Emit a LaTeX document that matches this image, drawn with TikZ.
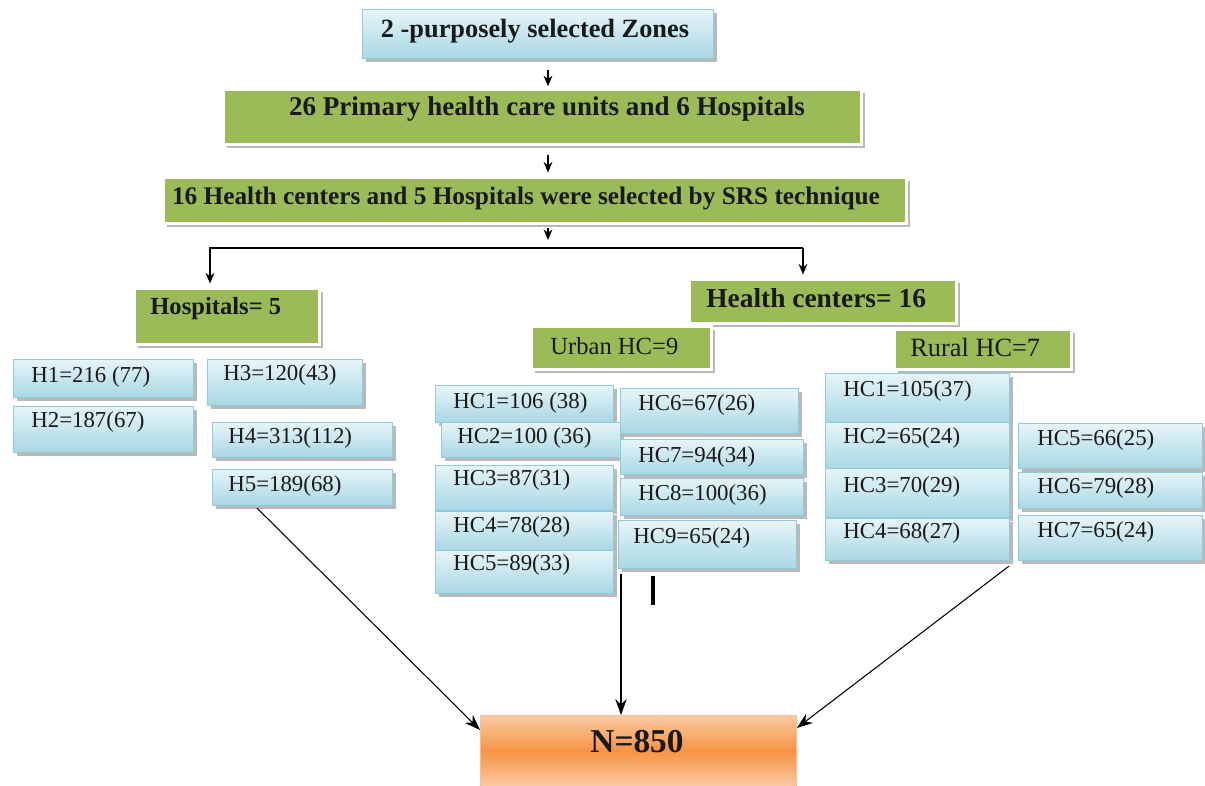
\documentclass[tikz,border=0pt]{standalone}
\usepackage{fontspec}
\setmainfont{Liberation Serif}
\usetikzlibrary{shadows,arrows.meta,calc}
\definecolor{gbox}{HTML}{9BBB59}
\definecolor{btop}{HTML}{E6F5F9}
\definecolor{bbot}{HTML}{A8D7E4}
\definecolor{bdraw}{HTML}{8FCBDB}
\definecolor{otop}{HTML}{FBCAA2}
\definecolor{omid}{HTML}{F69443}
\tikzset{
 shad/.style={drop shadow={shadow xshift=2pt, shadow yshift=-2.2pt, fill=black!50, opacity=0.55}},
 bluebox/.style={shad, draw=bdraw, line width=0.6pt, top color=btop, bottom color=bbot, inner sep=0, anchor=north west},
 greenbox/.style={shad, draw=white, line width=1.6pt, fill=gbox, inner sep=0, anchor=north west},
 orangebox/.style={draw=otop!80!omid, line width=0.5pt, top color=otop, bottom color=otop, middle color=omid, inner sep=0, anchor=north west},
 lbl/.style={anchor=west, inner sep=0, font=\fontsize{13}{15}\selectfont, text=black!90},
 ttl/.style={inner sep=0, font=\bfseries\fontsize{14}{16}\selectfont, text=black!90},
 arr/.style={-{Stealth[length=6pt,width=5pt]}, line width=0.9pt},
 thinarr/.style={-{Stealth[length=9pt,width=6.5pt]}, line width=0.6pt},
}
% style, name, x1, y1, x2, y2, text x, text y, text
\newcommand\bx[9]{%
 \node[#1, minimum width={(#5-#3)*0.02cm}, minimum height={(#6-#4)*0.02cm}] (#2) at (#3,#4) {};
 \node[lbl] (#2t) at (#7,#8) {#9};}
\begin{document}
\begin{tikzpicture}[x=0.02cm, y=-0.02cm]
\useasboundingbox (0,0) rectangle (1205,786);
% top chain
\node[bluebox, minimum width={351*0.02cm}, minimum height={49*0.02cm}] (zones) at (362,9) {};
\node[ttl, font=\bfseries\fontsize{15}{18}\selectfont] (zonest) at (535,31) {2 -purposely selected Zones};
\node[greenbox, minimum width={638*0.02cm}, minimum height={55*0.02cm}] (prim) at (222,88) {};
\node[ttl, font=\bfseries\fontsize{15.4}{18}\selectfont] (primt) at (547,109) {26 Primary health care units and 6 Hospitals};
\node[greenbox, minimum width={743*0.02cm}, minimum height={46*0.02cm}] (srs) at (162,176) {};
\node[ttl, font=\bfseries\fontsize{14.4}{17}\selectfont] (srst) at (526,198) {16 Health centers and 5 Hospitals were selected by SRS technique};
\coordinate (cx) at (548,0);
\coordinate (brm) at (548,240);
\coordinate (bl) at (210,248);
\coordinate (brr) at (803,248);
\draw[arr, shorten <=6pt, shorten >=1pt] (zones.south -| cx) -- (prim.north -| cx);
\draw[arr, shorten <=5pt, shorten >=2pt] (prim.south -| cx) -- (srs.north -| cx);
\draw[arr, shorten <=2pt] (srs.south -| cx) -- (brm);
% second level
\bx{greenbox}{hosp}{133}{287}{318}{343}{150}{309}{\bfseries\fontsize{14}{16}\selectfont Hospitals= 5}
\bx{greenbox}{hcs}{688}{278}{955}{322}{706}{298}{\bfseries\fontsize{15.6}{18}\selectfont Health centers= 16}
\bx{greenbox}{urb}{530}{325}{710}{368}{550}{346}{\fontsize{14}{16}\selectfont Urban HC=9}
\bx{greenbox}{rur}{893}{328}{1070}{368}{910}{347}{\fontsize{15}{17}\selectfont Rural HC=7}
\draw[arr, shorten >=2pt] (brr) -- (bl) -- (hosp.north -| bl);
\draw[arr, shorten >=2pt] (brr) -- (hcs.north -| brr);
% hospitals
\bx{bluebox}{h1}{13}{359}{193}{397}{31}{377}{H1=216 (77)}
\bx{bluebox}{h2}{13}{406}{193}{452}{31}{422}{H2=187(67)}
\bx{bluebox}{h3}{207}{359}{362}{405}{223}{375}{H3=120(43)}
\bx{bluebox}{h4}{212}{422}{392}{457}{228}{438}{H4=313(112)}
\bx{bluebox}{h5}{212}{469}{392}{505}{228}{486}{H5=189(68)}
% urban HCs
\bx{bluebox}{u1}{435}{385}{613}{422}{453}{403}{HC1=106 (38)}
\bx{bluebox}{u2}{441}{422}{620}{457}{457}{438}{HC2=100 (36)}
\bx{bluebox}{u3}{435}{465}{613}{510}{453}{480}{HC3=87(31)}
\bx{bluebox}{u4}{435}{511}{613}{550}{453}{527}{HC4=78(28)}
\bx{bluebox}{u5}{435}{550}{613}{593}{453}{565}{HC5=89(33)}
\bx{bluebox}{u6}{620}{388}{798}{433}{638}{405}{HC6=67(26)}
\bx{bluebox}{u7}{620}{439}{803}{474}{638}{457}{HC7=94(34)}
\bx{bluebox}{u8}{620}{478}{803}{515}{638}{495}{HC8=100(36)}
\bx{bluebox}{u9}{618}{520}{796}{568}{633}{538}{HC9=65(24)}
% rural HCs
\bx{bluebox}{r1}{825}{373}{1009}{422}{843}{391}{HC1=105(37)}
\bx{bluebox}{r2}{825}{422}{1009}{468}{843}{438}{HC2=65(24)}
\bx{bluebox}{r3}{825}{468}{1009}{517}{843}{487}{HC3=70(29)}
\bx{bluebox}{r4}{825}{518}{1009}{560}{843}{533}{HC4=68(27)}
\bx{bluebox}{r5}{1018}{423}{1202}{468}{1037}{440}{HC5=66(25)}
\bx{bluebox}{r6}{1018}{472}{1202}{508}{1037}{488}{HC6=79(28)}
\bx{bluebox}{r7}{1018}{515}{1202}{560}{1037}{532}{HC7=65(24)}
% total
\node[orangebox, minimum width={316*0.02cm}, minimum height={71*0.02cm}] (n) at (480,715) {};
\node[ttl, font=\bfseries\fontsize{19}{22}\selectfont] (nt) at (637,742) {N=850};
\coordinate (ms) at ($(u9.south west)+(3,5)$);
\draw[thinarr] ($(h5.south west)+(45,2)$) -- ($(n.north west)+(0,15)$);
\draw[thinarr] (ms) -- (n.north -| ms);
\draw[thinarr] ($(r4.south east)+(-1,5)$) -- ($(n.north east)+(0,13)$);
\coordinate (bar1) at (653,576);
\coordinate (bar2) at (653,605);
\draw[line width=2.2pt] (bar1) -- (bar2);
\end{tikzpicture}
\end{document}
